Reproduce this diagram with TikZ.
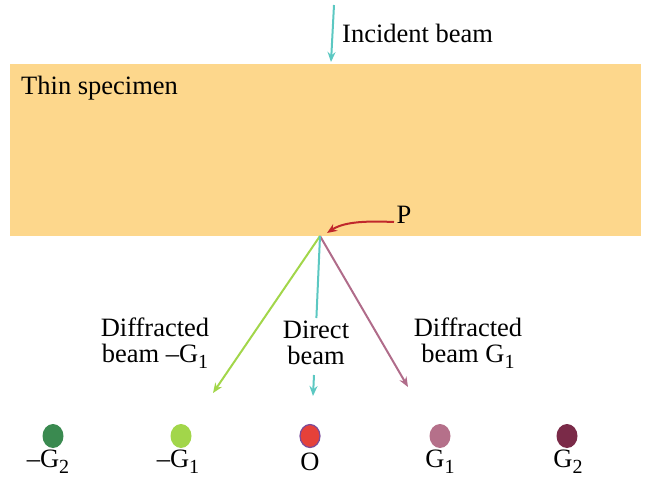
\documentclass[tikz,border=0pt]{standalone}
\usepackage{fontspec}
\setmainfont{Liberation Serif}
\usetikzlibrary{arrows.meta,shapes.geometric}
\definecolor{spec}{HTML}{FDD78C}
\definecolor{teal}{HTML}{5CC8C2}
\definecolor{lgreen}{HTML}{A2D64A}
\definecolor{mauve}{HTML}{B06C8A}
\definecolor{redarr}{HTML}{C0282C}
\definecolor{dgreen}{HTML}{3A8A50}
\definecolor{ored}{HTML}{E5413A}
\definecolor{opurp}{HTML}{7A4A9A}
\definecolor{gone}{HTML}{B5708A}
\definecolor{gtwo}{HTML}{7A2A48}
\newcommand\sbs[1]{\raisebox{-0.24em}{\fontsize{20}{20}\selectfont #1}}
\tikzset{
  lbl/.style={font=\fontsize{26.5}{26}\selectfont, inner sep=0pt, align=center},
  beam/.style={line width=2pt, -{Stealth[length=10pt,width=8pt]}},
  spot/.style={ellipse, minimum width=21pt, minimum height=24pt, inner sep=0pt},
}
\begin{document}
\begin{tikzpicture}[x=1pt,y=-1pt]
\useasboundingbox (0,0) rectangle (652,480);
\fill[spec] (10,64) rectangle (641,236);
\node[lbl, anchor=west] (thin) at (21,88) {Thin specimen};
\node[lbl, anchor=west] (inc) at (342,33) {Incident beam};
\coordinate (inctop) at (334,5);
\coordinate (incbot) at (331,62);
\draw[beam, teal] (inctop) -- (incbot);
\coordinate (P) at (320,236);
\node[lbl] (plabel) at (404,215) {P};
\coordinate (pstart) at (394,222);
\coordinate (pend) at (327,233);
\draw[line width=2pt, redarr, -{Stealth[length=10pt,width=8pt]}] (pstart) .. controls (370,221) and (345,221) .. (pend);
\coordinate (gm1end) at (213,393);
\coordinate (g1end) at (408,387);
\draw[beam, lgreen] (P) -- (gm1end);
\draw[beam, mauve] (P) -- (g1end);
\coordinate (dgap1) at (316.4,318);
\coordinate (dgap2) at (314,375);
\coordinate (dend) at (313,396);
\draw[line width=2pt, teal] (P) -- (dgap1);
\draw[beam, teal] (dgap2) -- (dend);
\node[lbl] (lmg) at (155,343) {Diffracted\\beam \textendash G\sbs{1}};
\node[lbl] (ldir) at (316,343) {Direct\\beam};
\node[lbl] (lg) at (468,343) {Diffracted\\beam G\sbs{1}};
\node[spot, fill=dgreen] (sm2) at (53,436) {};
\node[spot, fill=lgreen] (sm1) at (181,436) {};
\node[spot, fill=ored, draw=opurp, line width=1.2pt, minimum width=20pt, minimum height=23pt] (so) at (310,436) {};
\node[spot, fill=gone] (s1) at (440,436) {};
\node[spot, fill=gtwo] (s2) at (567,436) {};
\node[lbl] (tm2) at (48,462) {\textendash G\sbs{2}};
\node[lbl] (tm1) at (178,462) {\textendash G\sbs{1}};
\node[lbl] (to) at (310,462) {O};
\node[lbl] (t1) at (440,462) {G\sbs{1}};
\node[lbl] (t2) at (568,462) {G\sbs{2}};
\end{tikzpicture}
\end{document}
